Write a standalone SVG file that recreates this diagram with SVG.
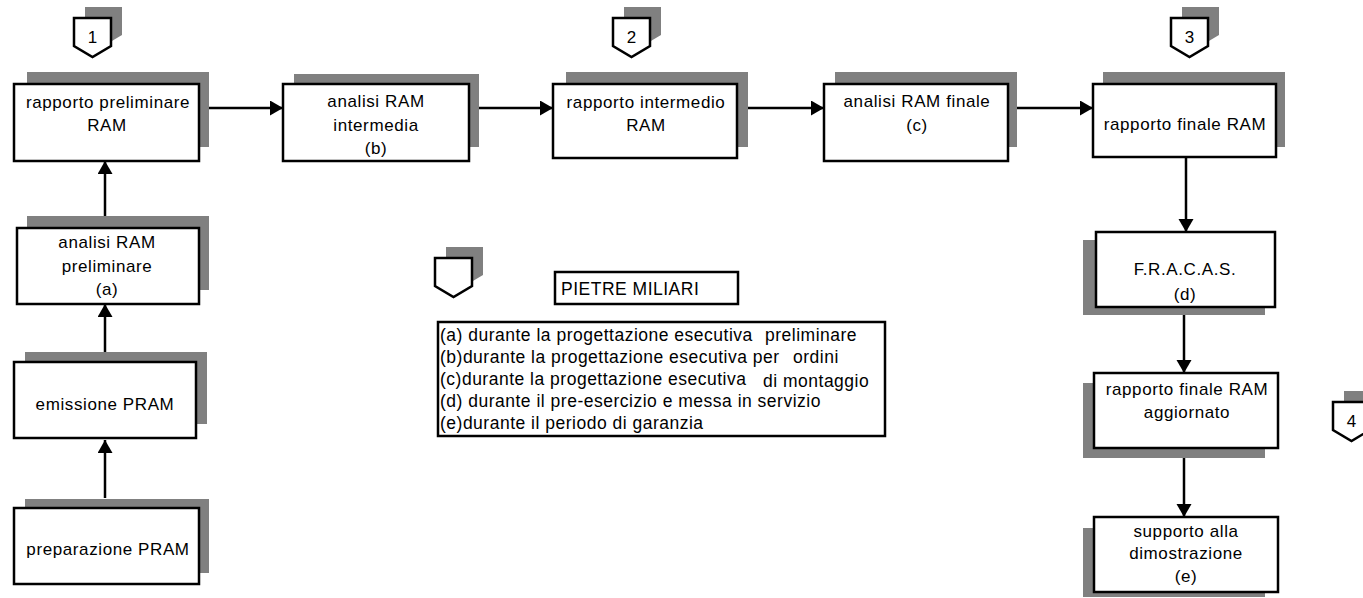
<svg xmlns="http://www.w3.org/2000/svg" width="1363" height="598" viewBox="0 0 1363 598">
<defs>
<style>
.sh{fill:#808080;stroke:none}
.bx{fill:#ffffff;stroke:#000000;stroke-width:2.5}
.t{font-family:"Liberation Sans",Arial,sans-serif;font-size:17px;fill:#000000;text-anchor:middle;letter-spacing:0.6px}
.lg{font-family:"Liberation Sans",Arial,sans-serif;font-size:17.5px;fill:#000000;letter-spacing:0.5px}
.c{fill:none;stroke:#000000;stroke-width:2.5}
</style>
<marker id="ah" markerUnits="userSpaceOnUse" markerWidth="14" markerHeight="16" refX="13" refY="7.5" orient="auto">
<path d="M0,0 L13,7.5 L0,15 z" fill="#000000"/>
</marker>
<polygon id="pent" points="0,0 37,0 37,28 18.5,39 0,28"/>
</defs>
<rect x="0" y="0" width="1363" height="598" fill="#ffffff"/>

<g id="connectors">
<line class="c" x1="209" y1="108" x2="283" y2="108" marker-end="url(#ah)"/>
<line class="c" x1="472" y1="108" x2="553" y2="108" marker-end="url(#ah)"/>
<line class="c" x1="747" y1="108" x2="824" y2="108" marker-end="url(#ah)"/>
<line class="c" x1="1017" y1="108" x2="1093" y2="108" marker-end="url(#ah)"/>
<line class="c" x1="105" y1="216" x2="105" y2="161" marker-end="url(#ah)"/>
<line class="c" x1="105" y1="352" x2="105" y2="304" marker-end="url(#ah)"/>
<line class="c" x1="105" y1="498" x2="105" y2="440" marker-end="url(#ah)"/>
<line class="c" x1="1186" y1="157" x2="1186" y2="232" marker-end="url(#ah)"/>
<line class="c" x1="1184" y1="307" x2="1184" y2="373" marker-end="url(#ah)"/>
<line class="c" x1="1184" y1="448" x2="1184" y2="517" marker-end="url(#ah)"/>
</g>

<g id="milestone1">
<use href="#pent" x="85" y="7" class="sh"/>
<use href="#pent" x="74" y="18" class="bx"/>
<text class="t" x="92.5" y="43" style="letter-spacing:0">1</text>
</g>
<g id="milestone2">
<use href="#pent" x="624" y="7" class="sh"/>
<use href="#pent" x="613" y="18" class="bx"/>
<text class="t" x="631.5" y="43" style="letter-spacing:0">2</text>
</g>
<g id="milestone3">
<use href="#pent" x="1182" y="7" class="sh"/>
<use href="#pent" x="1171" y="18" class="bx"/>
<text class="t" x="1189.5" y="43" style="letter-spacing:0">3</text>
</g>
<g id="milestone4">
<use href="#pent" x="1344" y="391" class="sh"/>
<use href="#pent" x="1333" y="402" class="bx"/>
<text class="t" x="1351.5" y="427" style="letter-spacing:0">4</text>
</g>

<g id="n1">
<rect class="sh" x="27" y="72" width="182" height="75"/>
<rect class="bx" x="14" y="84" width="185" height="77"/>
<text class="t" x="108" y="108">rapporto preliminare</text>
<text class="t" x="107" y="131">RAM</text>
</g>
<g id="n2">
<rect class="sh" x="294" y="74" width="185" height="73"/>
<rect class="bx" x="283" y="84" width="186" height="77"/>
<text class="t" x="376" y="107">analisi RAM</text>
<text class="t" x="376" y="131">intermedia</text>
<text class="t" x="376" y="154">(b)</text>
</g>
<g id="n3">
<rect class="sh" x="566" y="72" width="182" height="75"/>
<rect class="bx" x="553" y="84" width="184" height="74"/>
<text class="t" x="646" y="108">rapporto intermedio</text>
<text class="t" x="646" y="131">RAM</text>
</g>
<g id="n4">
<rect class="sh" x="835" y="72" width="182" height="75"/>
<rect class="bx" x="824" y="84" width="184" height="77"/>
<text class="t" x="917" y="107">analisi RAM finale</text>
<text class="t" x="917" y="131">(c)</text>
</g>
<g id="n5">
<rect class="sh" x="1103" y="72" width="182" height="75"/>
<rect class="bx" x="1093" y="84" width="183" height="73"/>
<text class="t" x="1185" y="130">rapporto finale RAM</text>
</g>
<g id="n6">
<rect class="sh" x="27" y="216" width="182" height="74"/>
<rect class="bx" x="17" y="228" width="182" height="76"/>
<text class="t" x="107" y="248">analisi RAM</text>
<text class="t" x="107" y="272">preliminare</text>
<text class="t" x="107" y="295">(a)</text>
</g>
<g id="n7">
<rect class="sh" x="25" y="352" width="182" height="72"/>
<rect class="bx" x="14" y="362" width="182" height="76"/>
<text class="t" x="105" y="410">emissione PRAM</text>
</g>
<g id="n8">
<rect class="sh" x="25" y="499" width="184" height="74"/>
<rect class="bx" x="14" y="508" width="185" height="76"/>
<text class="t" x="108" y="555">preparazione PRAM</text>
</g>
<g id="n9">
<rect class="sh" x="1083" y="240" width="182" height="75"/>
<rect class="bx" x="1096" y="232" width="179" height="75"/>
<text class="t" x="1185" y="275">F.R.A.C.A.S.</text>
<text class="t" x="1185" y="300">(d)</text>
</g>
<g id="n10">
<rect class="sh" x="1083" y="383" width="182" height="75"/>
<rect class="bx" x="1094" y="373" width="184" height="75"/>
<text class="t" x="1187" y="395">rapporto finale RAM</text>
<text class="t" x="1187" y="418">aggiornato</text>
</g>
<g id="n11">
<rect class="sh" x="1083" y="528" width="182" height="69"/>
<rect class="bx" x="1094" y="517" width="184" height="75"/>
<text class="t" x="1186" y="537">supporto alla</text>
<text class="t" x="1186" y="559">dimostrazione</text>
<text class="t" x="1186" y="582">(e)</text>
</g>

<g id="legend">
<use href="#pent" x="446" y="247" class="sh"/>
<use href="#pent" x="435" y="258" class="bx"/>
<rect class="bx" x="555" y="272" width="183" height="32"/>
<text class="lg" x="561" y="295">PIETRE MILIARI</text>
<rect class="bx" x="438" y="322" width="447" height="114"/>
<text class="lg" x="440" y="341">(a) durante la progettazione esecutiva<tspan x="765">preliminare</tspan></text>
<text class="lg" x="440" y="363">(b)durante la progettazione esecutiva per<tspan x="793">ordini</tspan></text>
<text class="lg" x="440" y="385">(c)durante la progettazione esecutiva<tspan x="763" dy="2">di montaggio</tspan></text>
<text class="lg" x="440" y="407">(d) durante il pre-esercizio e messa in servizio</text>
<text class="lg" x="440" y="429">(e)durante il periodo di garanzia</text>
</g>
</svg>
